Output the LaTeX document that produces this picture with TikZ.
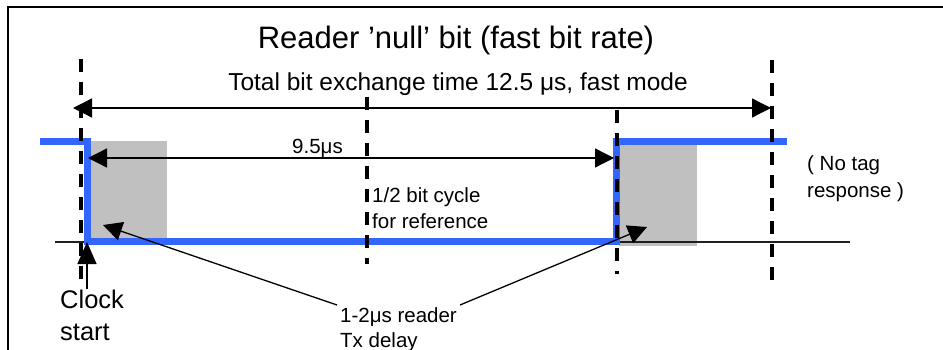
\documentclass[tikz,border=0pt]{standalone}
\usepackage{fontspec}
\setmainfont{Liberation Sans}
\usetikzlibrary{arrows.meta}
\definecolor{sigblue}{RGB}{51,102,255}
\definecolor{boxgray}{RGB}{192,192,192}
\begin{document}
\begin{tikzpicture}[x=1pt,y=-1pt,
  lbl/.style={inner sep=0pt, anchor=base west, font=\fontsize{20.5}{24}\selectfont},
  biglbl/.style={inner sep=0pt, anchor=base west, font=\fontsize{25.5}{30}\selectfont},
  arr/.style={line width=1.3pt, -{Triangle[length=19pt,width=19pt]}},
  dbl/.style={line width=1.3pt, {Triangle[length=19pt,width=19pt]}-{Triangle[length=19pt,width=19pt]}},
  vdash/.style={line width=4.3pt, dash pattern=on 13pt off 10pt},
  sig/.style={line width=6.8pt, sigblue, line join=miter},
  frame/.style={line width=2.5pt}]
\useasboundingbox (0,0) rectangle (943,350);
% frame
\coordinate (fA) at (943,7);
\coordinate (fB) at (8,7);
\coordinate (fC) at (8,350);
\draw[frame] (fA) -- (fB) -- (fC);
% gray boxes
\fill[boxgray] (91,141) rectangle (167,238);
\fill[boxgray] (619,145) rectangle (697,246);
% thin base line
\coordinate (bl0) at (55,242);
\coordinate (bl1) at (850,242);
\draw[line width=1.6pt, black!88] (bl0) -- (bl1);
% blue signal
\coordinate (s0) at (40,141.7);
\coordinate (s1) at (87.5,141.7);
\coordinate (s2) at (87.5,241.3);
\coordinate (s3) at (616.7,241.3);
\coordinate (s4) at (616.7,141.7);
\coordinate (s5) at (787,141.7);
\draw[sig] (s0) -- (s1) -- (s2) -- (s3) -- (s4) -- (s5);
% dashed verticals
\coordinate (d1t) at (81,59);   \coordinate (d1b) at (81,284);
\coordinate (d2t) at (367,97);  \coordinate (d2b) at (367,264);
\coordinate (d3t) at (617,110); \coordinate (d3b) at (617,274);
\coordinate (d4t) at (772,60);  \coordinate (d4b) at (772,283);
\draw[vdash] (d1t) -- (d1b);
\draw[vdash] (d2t) -- (d2b);
\draw[vdash] (d3t) -- (d3b);
\draw[vdash] (d4t) -- (d4b);
% texts
\node[inner sep=0pt, anchor=base, font=\fontsize{31}{37}\selectfont] (title) at (456,49) {Reader ’null’ bit (fast bit rate)};
\node[inner sep=0pt, anchor=base, font=\fontsize{24.5}{29}\selectfont] (sub) at (458,91) {Total bit exchange time 12.5 μs, fast mode};
\node[lbl] (t95) at (292,154) {9.5μs};
\node[lbl] (half1) at (372,203) {1/2 bit cycle};
\node[lbl] (half2) at (372,229) {for reference};
\node[lbl] (notag1) at (807,171) {( No tag};
\node[lbl] (notag2) at (807,197) {response )};
\node[biglbl] (clock1) at (60,308) {Clock};
\node[biglbl] (clock2) at (60,340) {start};
\node[lbl] (delay1) at (340,322) {1-2μs reader};
\node[lbl] (delay2) at (340,347) {Tx delay};
% arrows
\coordinate (tl) at (73,108);
\coordinate (tr) at (771,108);
\draw[dbl] (tl) -- (tr);
\coordinate (nl) at (88,158);
\coordinate (nr) at (614,158);
\draw[dbl] (nl) -- (nr);
\coordinate (ck0) at (87,289);
\coordinate (ck1) at (87,242);
\draw[line width=1.3pt, -{Triangle[length=22pt,width=19pt]}] (ck0) -- (ck1);
\coordinate (pl0) at (337,305);
\coordinate (pl1) at (103,225);
\draw[arr] (pl0) -- (pl1);
\coordinate (pr0) at (460,305);
\coordinate (pr1) at (647,227);
\draw[arr] (pr0) -- (pr1);
\end{tikzpicture}
\end{document}
